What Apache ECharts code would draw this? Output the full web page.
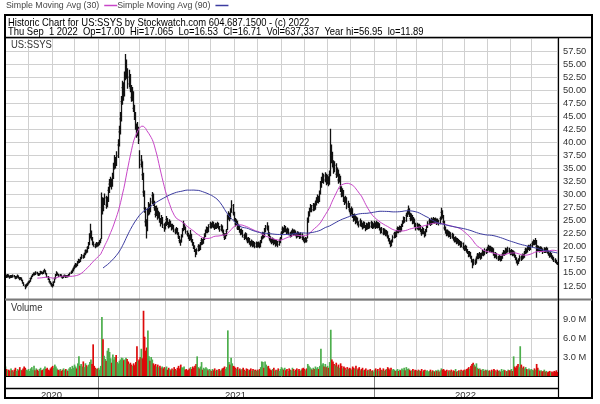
<!DOCTYPE html>
<html><head><meta charset="utf-8">
<script src="https://cdn.jsdelivr.net/npm/echarts@6/dist/echarts.min.js"></script>
<style>html,body{margin:0;padding:0;background:#fff}#c{width:600px;height:404px}</style>
</head><body><div id="c"></div>
<script>
// ---- data (daily bars, Sep 1 2020 .. Sep 1 2022), one line per month ----
const closes = [
14.5,14.2,14.6,14.3,14.1,14.4,14.2,14.5,14.3,14.0,14.2,14.4,14.1,13.8,14.0,13.6,13.1,12.7,12.4,12.6,12.9,
13.2,13.4,13.9,14.3,14.6,14.9,14.7,15.1,14.9,14.6,14.8,15.2,15.0,14.9,15.3,15.4,14.9,14.3,13.8,13.3,13.0,12.7,
12.5,13.2,13.9,14.6,14.9,14.7,14.4,14.6,14.3,14.1,14.3,14.5,14.2,14.4,14.3,14.6,14.9,15.1,15.4,15.8,
16.2,16.6,16.4,17.0,17.4,17.2,17.8,18.3,18.0,18.6,19.2,19.0,19.8,20.5,22.0,22.8,21.6,20.8,20.4,20.1,20.6,20.3,
20.5,20.9,21.3,28.2,27.0,28.6,29.4,28.0,28.9,30.8,32.0,32.6,31.8,33.4,35.2,36.5,35.8,37.4,39.5,
42.0,44.5,47.8,50.5,49.2,52.4,54.8,53.6,51.2,52.5,50.3,48.6,49.4,46.5,45.2,43.0,41.8,42.6,40.5,
35.8,36.6,33.8,30.5,27.4,24.8,23.2,26.5,27.8,26.9,28.6,29.8,28.4,27.5,26.2,27.3,25.8,26.4,25.2,24.6,25.5,24.2,23.6,
24.3,25.2,24.6,23.9,24.8,24.2,23.5,24.0,23.2,22.8,23.4,22.6,21.9,21.2,20.9,22.0,23.2,24.1,23.6,22.9,22.4,
22.0,21.5,22.3,21.2,20.6,20.0,19.4,18.7,19.3,20.1,19.6,20.5,21.2,20.8,21.5,22.1,22.8,23.4,23.0,23.8,
24.3,23.9,24.5,24.0,23.6,24.2,23.8,24.4,23.7,23.3,23.9,23.1,22.4,21.8,22.2,23.0,25.6,26.1,25.4,26.8,27.9,26.5,
25.2,24.4,24.8,23.6,23.9,23.1,22.6,23.0,22.2,21.8,22.4,21.6,21.1,21.5,20.8,20.5,21.0,20.3,20.7,20.1,20.6,
20.2,20.6,20.1,20.9,21.6,22.4,22.0,23.1,23.6,23.9,22.5,21.7,21.2,21.0,21.4,20.8,21.1,20.5,20.9,20.4,21.0,21.5,
22.6,23.4,23.0,23.8,23.2,22.8,23.3,22.6,22.2,22.7,23.1,22.5,22.9,22.4,22.0,22.6,22.3,21.9,22.4,21.8,21.4,
21.1,21.5,21.2,25.0,26.2,27.0,27.6,27.1,27.9,27.4,28.3,28.9,29.4,28.8,30.2,31.8,32.6,33.5,32.8,33.6,32.4,
33.0,32.2,33.8,38.5,37.2,36.0,34.8,35.6,33.9,34.5,32.8,33.4,31.2,30.1,30.6,29.2,28.6,29.3,27.8,28.2,27.1,
26.5,27.2,26.0,25.3,25.9,24.8,25.4,24.6,24.2,24.9,24.3,23.8,24.5,24.0,23.5,24.2,23.7,24.4,23.9,24.6,23.8,24.1,
24.4,23.8,24.6,23.9,24.3,23.5,22.9,23.4,22.6,23.1,22.4,22.8,22.0,21.4,20.9,20.4,21.0,21.8,22.5,22.1,
22.8,23.5,23.0,23.7,23.2,24.0,24.6,25.3,25.0,26.0,26.4,27.1,26.2,25.4,25.9,24.8,25.2,24.3,23.6,
24.2,23.5,24.0,23.2,22.6,23.4,22.8,22.3,23.0,23.8,24.5,24.9,24.4,25.1,24.7,25.3,24.8,25.2,24.6,25.0,24.5,25.4,26.6,
25.9,24.8,23.6,23.0,22.5,22.9,22.2,22.6,21.9,22.3,21.6,21.2,21.6,20.9,21.3,20.6,20.9,20.2,20.6,19.9,
19.6,20.0,19.3,19.0,18.4,18.8,18.1,17.4,16.7,17.3,16.9,17.8,18.4,18.0,18.6,17.9,18.5,19.0,18.6,19.3,19.0,
19.6,19.9,19.4,19.8,19.2,19.5,18.7,18.2,18.6,18.0,17.7,18.1,17.6,17.9,18.5,19.0,18.7,19.4,19.1,19.6,19.2,
18.8,19.2,18.6,18.9,18.3,17.8,17.2,16.9,17.4,18.0,17.7,18.3,18.1,18.8,19.4,19.1,19.7,20.0,19.6,20.2,
20.6,21.0,20.7,21.2,20.1,19.5,19.8,19.3,19.7,19.4,19.0,19.5,19.2,19.6,19.1,18.7,18.3,18.6,18.1,17.8,17.5,17.2,17.0,
16.71
];
const lows = [
14.2,14.0,14.1,14.1,13.9,14.0,14.0,14.1,14.1,13.8,13.9,14.1,13.9,13.6,13.7,13.4,12.9,12.5,11.89,12.2,12.5,
12.8,13.0,13.3,13.8,14.2,14.5,14.5,14.6,14.7,14.4,14.5,14.7,14.8,14.7,14.8,15.1,14.7,14.1,13.6,13.1,12.8,12.4,
12.2,12.5,13.1,13.8,14.4,14.5,14.2,14.2,14.1,13.9,14.0,14.2,14.0,14.1,14.1,14.2,14.5,14.8,15.0,15.3,
15.7,16.0,16.1,16.3,16.8,16.9,17.1,17.6,17.7,17.9,18.4,18.7,18.9,19.6,20.3,21.6,21.2,20.3,20.0,19.7,19.9,20.0,
20.1,20.3,20.7,21.5,26.2,26.8,28.0,27.3,27.6,28.6,30.3,31.4,31.0,31.5,33.0,34.8,35.0,35.5,37.0,
39.2,41.5,44.0,47.2,48.0,48.8,51.9,52.2,50.3,50.5,49.6,47.8,47.9,45.8,44.3,42.4,40.9,41.2,39.7,
35.0,35.2,32.8,29.6,26.5,23.9,21.6,23.0,26.0,26.2,26.6,28.2,27.8,26.9,25.6,25.9,25.2,25.4,24.6,23.9,24.3,23.6,22.9,
23.3,24.0,24.2,23.5,23.7,23.8,23.1,23.3,22.8,22.4,22.6,22.2,21.5,20.7,20.2,20.8,21.8,23.0,23.2,22.5,22.0,
21.5,21.1,21.3,20.8,20.2,19.6,19.0,18.0,18.5,19.1,19.2,19.4,20.3,20.4,20.6,21.3,21.9,22.6,22.6,22.8,
23.5,23.5,23.7,23.6,23.2,23.4,23.4,23.6,23.3,22.9,23.0,22.7,22.0,21.3,21.5,22.0,23.2,25.2,24.9,25.3,26.5,26.0,
24.8,23.9,24.0,23.2,23.2,22.7,22.2,22.3,21.8,21.3,21.5,21.2,20.7,20.8,20.4,20.0,20.2,19.9,20.0,19.7,19.8,
19.8,19.9,19.7,19.9,20.7,21.4,21.6,21.8,22.8,23.1,22.0,21.2,20.8,20.5,20.7,20.3,20.5,20.0,20.2,19.9,20.2,20.7,
21.4,22.3,22.6,22.8,22.8,22.4,22.5,22.2,21.8,21.9,22.4,22.1,22.2,22.0,21.6,21.8,21.9,21.5,21.6,21.3,21.0,
20.7,20.8,20.8,21.6,24.6,25.8,26.6,26.6,26.8,26.9,27.1,27.9,28.4,28.3,28.6,30.0,31.3,32.2,32.1,32.4,31.8,
32.0,31.6,31.9,33.5,36.0,35.2,34.0,34.3,33.2,33.4,32.1,32.3,30.5,29.5,29.6,28.6,28.0,28.3,27.2,27.4,26.6,
25.9,26.2,25.5,24.8,25.0,24.3,24.5,24.1,23.7,23.9,23.8,23.3,23.5,23.6,23.0,23.2,23.3,23.4,23.5,23.6,23.4,23.5,
23.7,23.4,23.6,23.5,23.6,23.1,22.5,22.6,22.2,22.3,22.0,22.1,21.6,21.0,20.5,19.9,20.1,20.8,21.6,21.7,
21.9,22.6,22.6,22.8,22.8,23.0,23.8,24.4,24.6,24.8,25.7,26.2,25.7,24.9,25.0,24.3,24.4,23.8,23.1,
23.3,23.1,23.2,22.8,22.1,22.4,22.4,21.8,22.0,22.8,23.6,24.2,24.0,24.2,24.3,24.5,24.4,24.5,24.2,24.3,24.1,24.3,25.2,
25.4,24.3,23.1,22.5,22.0,22.1,21.8,21.9,21.5,21.6,21.2,20.8,20.9,20.5,20.6,20.2,20.3,19.8,19.9,19.5,
19.2,19.3,18.9,18.6,18.0,18.1,17.7,17.0,15.9,16.4,16.5,16.8,17.6,17.6,17.8,17.5,17.7,18.3,18.2,18.4,18.6,
18.8,19.3,19.0,19.1,18.8,18.9,18.3,17.8,17.9,17.6,17.3,17.4,17.2,17.3,17.7,18.3,18.3,18.5,18.7,18.9,18.8,
18.4,18.5,18.2,18.3,17.9,17.4,16.8,16.4,16.7,17.2,17.3,17.5,17.7,17.9,18.6,18.7,18.9,19.4,19.2,19.4,
19.9,20.3,20.3,20.4,17.9,19.1,19.2,18.9,19.0,19.0,18.6,18.8,18.8,18.9,18.7,18.3,17.9,18.0,17.7,17.4,17.1,16.9,16.7,
16.53
];
const highs = [
14.8,14.6,14.8,14.7,14.5,14.6,14.6,14.7,14.6,14.4,14.4,14.7,14.5,14.2,14.2,14.1,13.7,13.2,12.8,12.9,13.1,
13.4,13.6,14.1,14.5,14.8,15.1,15.1,15.3,15.2,15.0,15.0,15.4,15.3,15.2,15.5,15.8,15.5,15.0,14.4,13.9,13.4,13.1,
12.9,13.4,14.1,14.8,15.3,15.1,14.8,14.8,14.7,14.4,14.5,14.7,14.6,14.6,14.6,14.8,15.1,15.4,15.7,16.1,
16.5,16.9,16.8,17.3,17.7,17.6,18.1,18.6,18.5,18.9,19.5,19.5,20.1,20.9,22.6,24.4,23.1,21.9,21.0,20.6,20.9,20.8,
20.9,21.3,21.6,30.4,29.5,29.4,30.2,29.8,29.6,31.5,33.0,33.4,33.1,34.2,36.1,37.6,37.2,38.3,40.6,
43.2,45.8,48.9,51.8,51.5,53.6,56.95,55.9,54.2,53.9,53.1,51.0,50.6,49.8,47.2,45.8,43.6,43.9,43.0,
38.5,37.6,36.4,34.2,30.8,27.6,25.3,27.4,28.6,28.3,29.4,30.5,30.2,28.8,27.8,27.9,27.5,26.9,26.6,25.5,26.1,25.7,24.5,
24.8,25.9,25.5,24.8,25.3,25.0,24.4,24.4,24.2,23.5,23.8,23.6,22.8,22.1,21.4,22.4,23.6,25.0,24.5,23.9,23.1,
22.7,22.3,23.2,22.5,21.5,20.9,20.3,19.6,19.7,20.5,20.4,20.9,21.7,21.5,21.9,22.6,23.3,23.9,23.8,24.3,
24.8,24.6,24.9,24.8,24.3,24.6,24.5,24.8,24.6,24.0,24.3,24.1,23.3,22.6,22.6,23.4,26.2,26.8,26.5,27.4,28.9,28.2,
26.7,25.5,25.3,25.0,24.4,24.1,23.4,23.5,23.2,22.5,22.8,22.6,21.8,21.9,21.7,21.1,21.4,21.2,21.1,20.9,21.0,
20.9,21.0,20.8,21.3,22.0,22.9,22.8,23.6,24.2,24.7,24.1,22.8,22.0,21.6,21.8,21.6,21.5,21.3,21.3,21.1,21.4,21.9,
23.0,23.9,23.7,24.2,24.0,23.5,23.7,23.5,22.9,23.1,23.5,23.3,23.3,23.1,22.7,23.0,22.9,22.6,22.8,22.6,22.0,
21.7,21.9,21.8,25.6,26.8,27.5,28.2,28.0,28.4,28.3,28.8,29.5,30.0,29.8,30.8,32.6,33.4,34.2,34.0,34.3,34.0,
33.8,33.5,34.6,42.6,39.6,38.2,36.6,36.4,36.0,35.2,34.8,34.0,33.6,31.6,31.2,30.9,29.6,29.8,29.5,28.8,28.4,
27.4,27.7,27.4,26.3,26.4,26.0,25.8,25.6,24.9,25.4,25.1,24.6,24.9,24.8,24.2,24.6,24.5,24.8,24.7,25.0,24.8,24.5,
25.0,24.7,25.0,24.8,24.7,24.5,23.7,23.8,23.6,23.5,23.3,23.2,23.0,22.2,21.7,21.2,21.4,22.2,22.9,22.9,
23.2,23.9,23.8,24.1,24.0,24.4,25.1,25.8,25.7,26.5,26.9,27.9,27.4,26.5,26.4,26.1,25.7,25.4,24.6,
24.6,24.4,24.4,24.2,23.4,23.8,23.6,23.0,23.4,24.2,24.9,25.4,25.2,25.6,25.4,25.7,25.5,25.6,25.4,25.4,25.2,25.8,27.5,
27.0,26.1,25.0,23.9,23.3,23.3,23.1,23.0,22.8,22.7,22.5,21.9,22.0,21.8,21.7,21.5,21.3,21.1,21.0,20.8,
20.2,20.4,20.2,19.6,19.2,19.2,19.0,18.3,17.6,17.7,17.6,18.2,18.8,18.7,19.0,18.8,18.9,19.4,19.3,19.7,19.6,
20.0,20.4,20.2,20.2,20.0,19.9,19.7,18.9,19.0,18.8,18.3,18.5,18.3,18.3,18.9,19.4,19.3,19.8,19.7,20.0,19.8,
19.4,19.6,19.4,19.3,19.1,18.5,18.0,17.5,17.8,18.4,18.3,18.7,18.6,19.2,19.8,19.7,20.1,20.4,20.3,20.6,
21.0,21.4,21.3,21.7,21.3,20.3,20.2,20.0,20.1,20.0,19.7,19.9,19.8,20.0,19.8,19.3,18.9,19.0,18.8,18.4,18.1,17.8,17.5,
17.065
];
// volume in millions of shares
const volumes = [
1.5,1.1,0.9,1.0,0.8,1.2,0.9,0.7,1.0,1.3,0.8,1.1,0.9,1.4,1.0,0.9,1.2,1.5,1.3,1.0,0.9,
1.1,0.8,1.2,1.4,1.0,1.6,0.9,1.2,1.0,0.8,1.1,1.3,0.9,1.0,1.2,1.5,1.1,1.3,1.0,0.9,1.2,1.4,
1.6,1.3,1.8,1.5,1.2,1.0,0.9,1.1,0.8,1.0,1.2,0.9,1.1,1.0,0.8,1.2,1.4,1.1,1.6,1.3,
1.8,1.5,1.2,2.0,3.1,1.6,1.9,1.5,2.3,1.4,2.0,1.7,1.5,1.8,2.2,2.6,1.9,5.0,1.6,1.3,1.1,1.2,
1.3,1.0,1.6,9.3,5.8,3.2,2.7,2.4,4.0,4.4,3.8,2.8,2.1,3.4,2.6,3.0,3.3,2.2,2.0,
2.4,2.6,2.9,2.8,2.5,2.6,2.9,2.7,2.3,1.9,2.1,1.8,1.6,2.0,1.7,2.2,4.7,2.4,2.6,
3.0,4.3,2.8,10.3,6.2,4.0,4.5,7.2,3.1,2.4,3.0,2.6,2.0,1.7,1.9,1.5,1.8,1.4,1.6,1.3,1.5,1.2,1.4,
1.2,1.5,1.0,1.3,1.1,0.9,1.2,1.0,1.4,1.1,0.9,1.3,1.6,1.2,1.8,1.4,1.3,1.5,1.0,1.1,0.9,
1.0,1.2,1.4,1.1,1.5,1.3,1.6,1.9,3.1,1.4,1.2,1.5,2.2,1.0,1.3,1.1,1.4,1.2,0.9,1.1,
1.0,0.8,1.1,0.9,1.2,0.8,1.0,0.9,1.1,0.8,1.0,1.2,1.3,1.5,1.1,1.4,7.2,2.2,1.8,2.9,2.0,1.6,
1.5,1.3,1.1,1.4,1.0,1.2,0.9,1.1,1.3,1.0,0.8,1.2,1.1,0.9,1.0,1.2,0.8,1.1,0.9,1.0,0.8,
1.0,0.9,1.1,1.4,2.3,2.2,1.3,2.3,1.8,1.5,1.6,1.2,1.0,0.9,1.1,1.3,0.8,1.0,0.9,1.2,0.8,1.1,
1.4,1.2,1.0,1.3,0.9,1.1,0.8,1.2,1.0,0.9,1.3,1.1,0.8,1.0,1.2,0.9,1.1,0.8,1.0,1.2,1.3,
1.1,0.9,1.2,1.9,1.6,1.4,1.2,1.0,1.3,1.1,1.5,1.2,1.4,1.1,1.6,4.3,1.8,2.0,1.5,1.9,1.4,
1.6,1.3,2.2,7.3,2.6,2.3,1.9,1.7,2.1,1.5,1.8,1.3,2.0,1.6,1.2,1.5,1.3,1.0,1.4,1.1,1.3,
1.2,1.0,1.5,1.3,1.1,1.6,1.0,1.2,1.4,0.9,1.1,1.3,0.9,1.0,1.2,0.8,1.0,0.9,1.1,0.8,0.9,0.7,
1.0,1.2,0.9,1.1,0.8,1.3,1.0,0.9,1.2,0.8,1.0,1.1,1.4,1.2,1.0,1.3,0.9,1.1,1.0,0.8,
0.9,1.1,0.8,1.0,0.9,1.2,1.0,1.3,0.9,1.4,1.1,1.2,1.0,0.8,0.9,1.1,0.8,1.0,0.9,
0.8,1.0,0.9,0.8,1.1,0.7,0.9,1.0,0.8,0.9,0.7,0.8,1.0,0.7,0.9,0.8,0.7,0.9,0.8,1.0,0.7,0.9,1.2,
1.0,1.1,0.9,0.8,1.0,0.7,0.9,0.8,1.0,0.7,0.9,0.8,1.1,0.7,0.8,0.9,0.7,1.0,0.8,0.9,
1.0,0.9,1.1,1.2,1.4,1.1,1.6,1.9,2.1,1.8,1.5,2.0,1.3,1.1,1.2,1.0,0.9,1.1,0.8,1.0,0.9,
1.0,0.8,0.9,0.7,1.0,0.8,1.1,0.9,0.7,1.0,0.8,0.9,0.7,1.1,0.8,1.0,0.9,0.7,0.8,1.0,0.9,
0.9,1.1,0.8,3.1,1.5,1.3,1.6,1.9,1.4,4.7,1.8,1.3,1.5,1.2,1.4,1.1,1.0,1.2,0.9,1.1,
1.0,0.9,1.2,1.0,1.9,1.3,1.0,0.8,0.9,0.7,0.8,1.0,0.7,0.8,0.6,0.7,0.8,0.6,0.7,0.6,0.8,0.7,0.9,
0.64
];
const marketHolidays = ['2020-09-07','2020-11-26','2020-12-25','2021-01-01','2021-01-18','2021-02-15','2021-04-02',
  '2021-05-31','2021-07-05','2021-09-06','2021-11-25','2021-12-24','2022-01-17','2022-02-21','2022-04-15',
  '2022-05-30','2022-06-20','2022-07-04'];
const titleLine1 = 'Historic Chart for US:SSYS by Stockwatch.com 604.687.1500 - (c) 2022';
const titleLine2 = 'Thu Sep  1 2022  Op=17.00  Hi=17.065  Lo=16.53  Cl=16.71  Vol=637,337  Year hi=56.95  lo=11.89';
const smaNames = ['Simple Moving Avg (30)', 'Simple Moving Avg (90)'];

// ---- trading-day categories ----
const dates = [];
(function(){
  const d = new Date(Date.UTC(2020, 8, 1)), end = Date.UTC(2022, 8, 1);
  while (d.getTime() <= end) {
    const wd = d.getUTCDay(), s = d.toISOString().slice(0, 10);
    if (wd !== 0 && wd !== 6 && marketHolidays.indexOf(s) < 0) dates.push(s);
    d.setUTCDate(d.getUTCDate() + 1);
  }
})();
const monthStart = new Set(), yearStart = new Set(), yearMid = new Set();
let ys = 0;
for (let i = 1; i <= dates.length; i++) {
  if (i < dates.length && dates[i].slice(0, 7) !== dates[i - 1].slice(0, 7)) monthStart.add(i);
  if (i === dates.length || dates[i].slice(0, 4) !== dates[i - 1].slice(0, 4)) {
    if (i < dates.length) yearStart.add(i);
    yearMid.add(Math.floor((ys + i - 1) / 2));
    ys = i;
  }
}
function sma(n) {
  return closes.map((c, i) => {
    if (i < n - 1) return null;
    let s = 0; for (let k = i - n + 1; k <= i; k++) s += closes[k];
    return +(s / n).toFixed(3);
  });
}
const candles = closes.map((c, i) => [c, c, lows[i], highs[i]]);
const UP = '#4cae4c', DOWN = '#dd0a0a';
const volData = volumes.map((v, i) => ({ value: v, itemStyle: { color: (i > 0 && closes[i] < closes[i - 1]) ? DOWN : UP } }));

const FONT = "'Liberation Sans',Arial,sans-serif";
const SX = 0.82; // the source uses a condensed face; scale real text horizontally
const GRID = '#d0d0d0';
const chart = echarts.init(document.getElementById('c'), null, { renderer: 'canvas', devicePixelRatio: 1 });
const catAxis = (gi) => ({
  type: 'category', gridIndex: gi, data: dates, boundaryGap: true,
  axisLine: { show: false }, axisTick: { show: false }, axisLabel: { show: false },
  splitLine: { show: true, interval: (i) => monthStart.has(i), lineStyle: { color: GRID, width: 1 } }
});
const label = (txt, x, y, color) => ({ type: 'text', z: 100, x: x, y: y, scaleX: SX,
  style: { text: txt, fill: color, fontSize: 11.5, fontFamily: FONT, verticalAlign: 'middle' } });
chart.setOption({
  animation: false,
  backgroundColor: '#fff',
  textStyle: { fontFamily: FONT },
  legend: {
    left: 6, top: 1, padding: 0, align: 'right', itemGap: 0, itemWidth: 13, itemHeight: 1.5, icon: 'rect',
    textStyle: { fontSize: 8.8, color: '#444', fontFamily: FONT },
    data: smaNames
  },
  grid: [
    { left: 5, right: 42, top: 38, height: 261 },
    { left: 5, right: 42, top: 300, height: 76 },
    { left: 5, right: 42, top: 376, height: 12 }
  ],
  xAxis: [
    catAxis(0), catAxis(1),
    { type: 'category', gridIndex: 2, data: dates, boundaryGap: true,
      axisLine: { show: false },
      axisTick: { show: true, interval: (i) => yearStart.has(i), length: 10, lineStyle: { color: '#808080' } },
      axisLabel: { interval: (i) => yearMid.has(i), formatter: (v) => v.slice(0, 4), fontSize: 9.5, color: '#333', margin: 2, fontFamily: FONT },
      splitLine: { show: true, interval: (i) => yearStart.has(i), lineStyle: { color: '#808080' } } }
  ],
  yAxis: [
    { type: 'value', gridIndex: 0, position: 'right', min: 10, max: 60, interval: 2.5,
      axisLine: { show: false }, axisTick: { show: false },
      axisLabel: { showMinLabel: false, showMaxLabel: false, formatter: (v) => v.toFixed(2), margin: 5, fontSize: 9.3, color: '#333', fontFamily: FONT },
      splitLine: { lineStyle: { color: GRID } } },
    { type: 'value', gridIndex: 1, position: 'right', min: 0, max: 12, interval: 3,
      axisLine: { show: false }, axisTick: { show: false },
      axisLabel: { formatter: (v) => (v === 0 || v === 12) ? '' : v.toFixed(1) + ' M', margin: 5, fontSize: 9.3, color: '#333', fontFamily: FONT },
      splitLine: { lineStyle: { color: GRID } } },
    { type: 'value', gridIndex: 2, show: false }
  ],
  series: [
    { type: 'candlestick', name: 'US:SSYS', xAxisIndex: 0, yAxisIndex: 0, data: candles, barWidth: 2,
      itemStyle: { color: '#000', color0: '#000', borderColor: '#111', borderColor0: '#111', borderWidth: 1.3 } },
    { type: 'line', name: smaNames[0], xAxisIndex: 0, yAxisIndex: 0, data: sma(30), symbol: 'none',
      lineStyle: { width: 1, color: '#c846c8' }, itemStyle: { color: '#c846c8' }, z: 3 },
    { type: 'line', name: smaNames[1], xAxisIndex: 0, yAxisIndex: 0, data: sma(90), symbol: 'none',
      lineStyle: { width: 1, color: '#3c3ca0' }, itemStyle: { color: '#3c3ca0' }, z: 3 },
    { type: 'bar', name: 'Volume', xAxisIndex: 1, yAxisIndex: 1, data: volData, barWidth: 1.7, barGap: '-100%' }
  ],
  graphic: [
    { type: 'rect', z: 100, shape: { x: 5, y: 15, width: 587, height: 383 }, style: { fill: 'none', stroke: '#000', lineWidth: 2 } },
    { type: 'line', z: 100, shape: { x1: 5, y1: 37.5, x2: 592, y2: 37.5 }, style: { stroke: '#000', lineWidth: 1.5 } },
    { type: 'line', z: 100, shape: { x1: 5, y1: 299.5, x2: 592, y2: 299.5 }, style: { stroke: '#7a7a7a', lineWidth: 2 } },
    { type: 'line', z: 100, shape: { x1: 558.5, y1: 37, x2: 558.5, y2: 398 }, style: { stroke: '#000', lineWidth: 1.2 } },
    { type: 'line', z: 100, shape: { x1: 5, y1: 376.5, x2: 558, y2: 376.5 }, style: { stroke: '#000', lineWidth: 1 } },
    { type: 'line', z: 100, shape: { x1: 5, y1: 388.5, x2: 558, y2: 388.5 }, style: { stroke: '#000', lineWidth: 1.5 } },
    label(titleLine1, 8, 22.5, '#000'),
    label(titleLine2, 8, 32, '#000'),
    label('US:SSYS', 11, 44.5, '#333'),
    label('Volume', 11, 308, '#333')
  ]
});
</script>
</body></html>
